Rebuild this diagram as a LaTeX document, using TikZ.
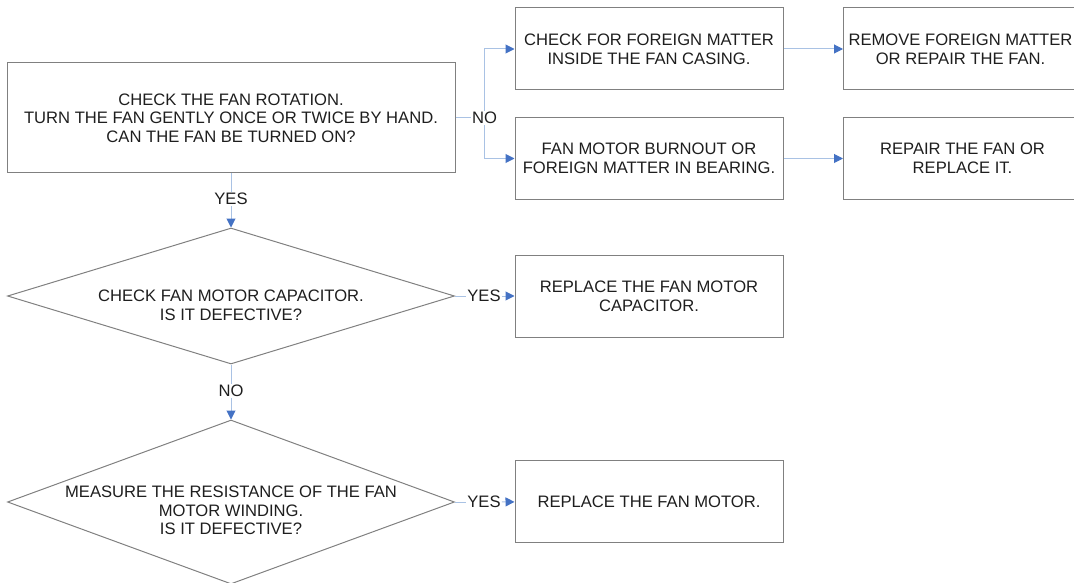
\documentclass[tikz,border=0pt]{standalone}
\usepackage{fontspec}
\setmainfont{Liberation Sans}
\usetikzlibrary{shapes.geometric,arrows.meta}
\definecolor{boxgray}{HTML}{808080}
\definecolor{linkblue}{HTML}{A9C2E4}
\definecolor{tipblue}{HTML}{4472C4}
\definecolor{inkgray}{HTML}{1E1E1E}
\newcommand\chartfont{\fontsize{16.6}{18.6}\selectfont}
\tikzset{
  box/.style={draw=boxgray, line width=1pt, minimum width=268pt, minimum height=82pt,
    align=center, font=\chartfont, text=inkgray},
  cutbox/.style={anchor=west, inner xsep=0pt},
  decision/.style={draw=boxgray, line width=1pt, diamond, minimum width=447pt, inner sep=0pt},
  txt/.style={align=center, font=\chartfont, text=inkgray},
  lbl/.style={font=\chartfont, text=inkgray, inner sep=1pt},
  link/.style={draw=linkblue, line width=1pt},
  flow/.style={link, -{Triangle[length=9pt,width=9pt,color=tipblue]}}
}
\begin{document}
\begin{tikzpicture}[x=1pt,y=-1pt]
  \useasboundingbox (0,0) rectangle (1074,583);
  % boxes
  \node[box, minimum width=448pt, minimum height=110pt] (rot) at (231,118)
    {CHECK THE FAN ROTATION.\\TURN THE FAN GENTLY ONCE OR TWICE BY HAND.\\CAN THE FAN BE TURNED ON?};
  \node[box] (cfm) at (649,49) {CHECK FOR FOREIGN MATTER\\INSIDE THE FAN CASING.};
  \node[box] (burn) at (649,158.5) {FAN MOTOR BURNOUT OR\\FOREIGN MATTER IN BEARING.};
  \node[box, cutbox] (rem) at (843,49)
    {\makebox[268pt][l]{\parbox{234pt}{\centering REMOVE FOREIGN MATTER\\OR REPAIR THE FAN.}}};
  \node[box, cutbox] (fix) at (843,158.5)
    {\makebox[268pt][l]{\parbox{238pt}{\centering REPAIR THE FAN OR\\REPLACE IT.}}};
  \node[box] (capr) at (649,296) {REPLACE THE FAN MOTOR\\CAPACITOR.};
  \node[box] (motr) at (649,501.5) {REPLACE THE FAN MOTOR.};
  % decisions
  \node[decision, minimum height=136pt] (cap) at (231,296) {};
  \node[txt] (captxt) at (231,305) {CHECK FAN MOTOR CAPACITOR.\\IS IT DEFECTIVE?};
  \node[decision, minimum height=164pt] (wind) at (231,502) {};
  \node[txt] (windtxt) at (231,510.5) {MEASURE THE RESISTANCE OF THE FAN\\MOTOR WINDING.\\IS IT DEFECTIVE?};
  % labels
  \node[lbl] (no1) at (484.5,118) {NO};
  \node[lbl] (yes1) at (231,199) {YES};
  \node[lbl] (no2) at (231,391) {NO};
  \node[lbl] (yes2) at (484,296) {YES};
  \node[lbl] (yes3) at (484,502) {YES};
  % connectors
  \draw[link] (rot) -- (no1);
  \draw[flow] (no1) |- (cfm);
  \draw[flow] (no1) |- (burn);
  \draw[flow] (cfm) -- (rem);
  \draw[flow] (burn) -- (fix);
  \draw[link] (rot) -- (yes1);
  \draw[flow] (yes1) -- (cap);
  \draw[link] (cap) -- (yes2);
  \draw[flow] (yes2) -- (capr);
  \draw[link] (cap) -- (no2);
  \draw[flow] (no2) -- (wind);
  \draw[link] (wind) -- (yes3);
  \draw[flow] (yes3) -- (motr);
\end{tikzpicture}
\end{document}
